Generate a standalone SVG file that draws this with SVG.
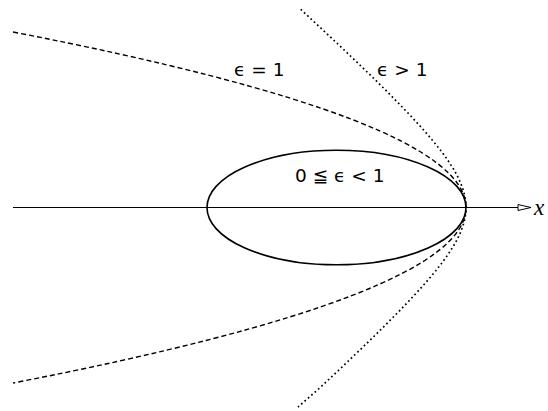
<svg xmlns="http://www.w3.org/2000/svg" width="548" height="411" viewBox="0 0 548 411">
<style>
.lbl{font-family:"DejaVu Sans","Liberation Sans",sans-serif;font-size:18.5px;fill:#000}
.ax{font-family:"Liberation Serif",serif;font-style:italic;font-size:23px;fill:#000}
.curve{fill:none;stroke:#000}
</style>
<defs>
<marker id="arr" markerWidth="16" markerHeight="10" refX="14" refY="4" orient="auto" markerUnits="userSpaceOnUse">
<path d="M1,1 L14,4 L1,7 Z" fill="#fff" stroke="#000" stroke-width="1"/>
</marker>
</defs>
<rect width="548" height="411" fill="#fff"/>
<g id="connectors">
<line id="x-axis" x1="13" y1="207.5" x2="531" y2="207.5" stroke="#000" stroke-width="1.1" marker-end="url(#arr)"/>
</g>
<g id="ellipse">
<ellipse class="curve" cx="336.5" cy="207.5" rx="129.5" ry="57.3" stroke-width="1.6"/>
<text class="lbl" x="295" y="182">0 ≦ ϵ &lt; 1</text>
</g>
<g id="parabola">
<path class="curve" d="M13,32 Q919,207.5 13,383" stroke-width="1.4" stroke-dasharray="5,3"/>
<text class="lbl" x="234" y="76">ϵ = 1</text>
</g>
<g id="hyperbola">
<polyline class="curve" stroke-width="1.7" stroke-dasharray="1.7,2.8" points="300.7,9.3 318.9,26.3 338.4,44.5 355.9,61.2 371.6,76.3 385.7,90.2 398.2,102.9 409.4,114.5 419.3,125.2 428.1,135.1 435.8,144.3 442.5,152.8 448.2,160.8 453.1,168.3 457.1,175.4 460.3,182.2 462.8,188.7 464.6,195.1 465.7,201.3 466,207.5 465.7,213.7 464.6,219.9 462.8,226.3 460.3,232.8 457.1,239.6 453.1,246.7 448.2,254.2 442.5,262.2 435.8,270.7 428.1,279.9 419.3,289.8 409.4,300.5 398.2,312.1 385.7,324.8 371.6,338.7 355.9,353.8 338.4,370.5 318.9,388.7 298,407"/>
<text class="lbl" x="377" y="76">ϵ &gt; 1</text>
</g>
<g id="axis-label">
<text class="ax" x="534" y="215">x</text>
</g>
</svg>
